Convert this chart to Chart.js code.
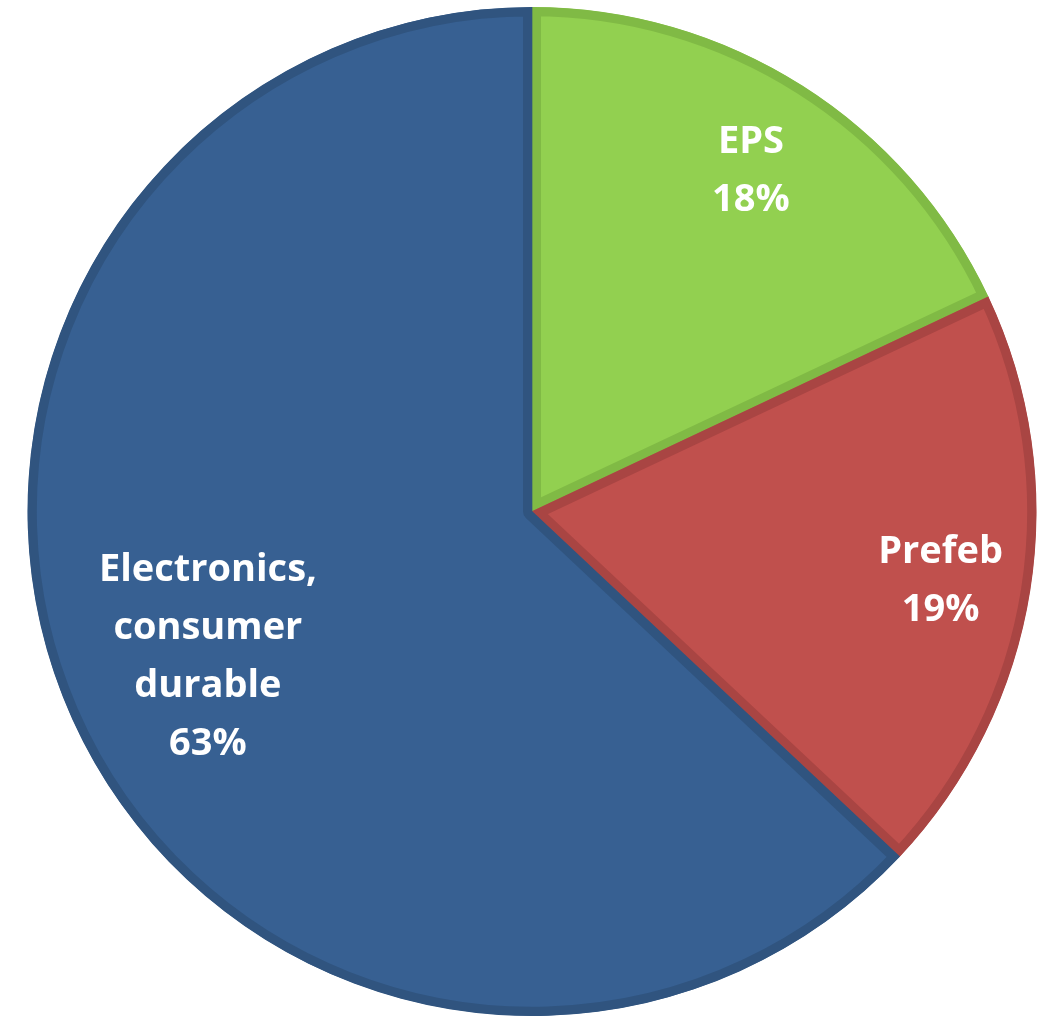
<!DOCTYPE html>
<html>
<head>
<meta charset="utf-8">
<script src="https://cdn.jsdelivr.net/npm/chart.js@4/dist/chart.umd.min.js"></script>
<style>
    html, body { margin: 0; padding: 0; background: #fff; }
    #wrap { width: 1049px; height: 1019px; }
</style>
</head>
<body>
<div id="wrap"><canvas id="pieChart"></canvas></div>
<script>
/* DATA */
const categories = [["EPS"], ["Prefeb"], ["Electronics,", "consumer", "durable"]];
const shares = [18, 19, 63];
const sliceColors = ["#92D050", "#C0504D", "#376092"];
const sliceBorders = ["#80BA45", "#A94543", "#30547F"];

/* label plugin: name + percentage inside each slice */
const labelRadius = [0.81, 0.82, 0.70];

const sliceLabels = {
    id: "sliceLabels",
    afterDatasetsDraw(chart) {
        const ctx = chart.ctx;
        const meta = chart.getDatasetMeta(0);
        const total = shares.reduce((a, b) => a + b, 0);
        ctx.save();
        ctx.fillStyle = "#fff";
        ctx.font = "bold 38px 'Open Sans'";
        ctx.textAlign = "center";
        ctx.textBaseline = "middle";
        meta.data.forEach((arc, i) => {
            const p = arc.getProps(["x", "y", "startAngle", "endAngle", "outerRadius"], true);
            const mid = (p.startAngle + p.endAngle) / 2;
            const r = p.outerRadius * labelRadius[i];
            const cx = p.x + Math.cos(mid) * r;
            const cy = p.y + Math.sin(mid) * r + 5;
            const lines = categories[i].concat([Math.round(shares[i] / total * 100) + "%"]);
            const lh = 58;
            const top = cy - (lines.length - 1) * lh / 2;
            lines.forEach((t, j) => ctx.fillText(t, cx, top + j * lh));
        });
        ctx.restore();
    }
};

const ctx = document.getElementById("pieChart");

new Chart(ctx, {
    type: "pie",
    data: {
        labels: categories,
        datasets: [{
            data: shares,
            backgroundColor: sliceColors,
            borderColor: sliceBorders,
            borderWidth: 9,
            borderAlign: "inner"
        }]
    },
    options: {
        responsive: true,
        maintainAspectRatio: false,
        animation: false,
        layout: { padding: { left: 15, right: 0, top: 7, bottom: 3 } },
        plugins: {
            legend: { display: false },
            tooltip: { enabled: false }
        }
    },
    plugins: [sliceLabels]
});
</script>
</body>
</html>
